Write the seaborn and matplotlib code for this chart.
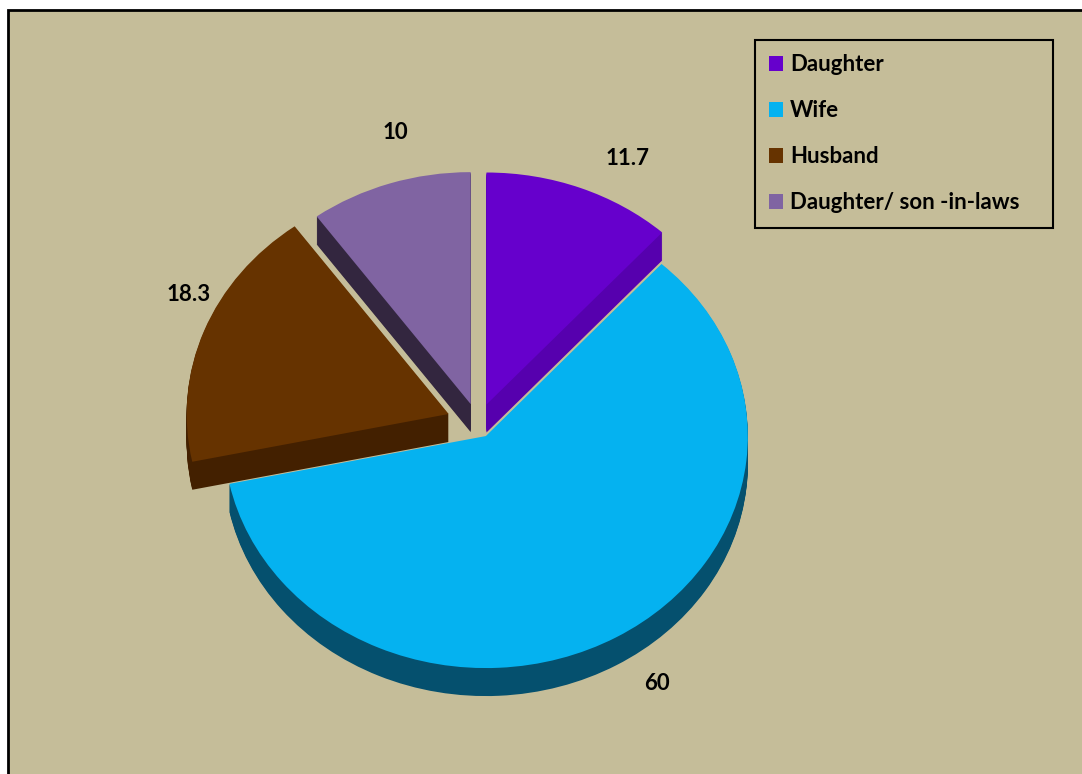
import numpy as np
import matplotlib
matplotlib.use("Agg")
import matplotlib.pyplot as plt
from matplotlib.patches import Rectangle
import seaborn as sns

# Data
categories = ["Daughter", "Wife", "Husband", "Daughter/ son -in-laws"]
shares = [11.7, 60, 18.3, 10]
value_labels = ["11.7", "60", "18.3", "10"]

# Styling
top_colors = ["#6600CC", "#05B2F0", "#663300", "#8064A2"]
side_colors = ["#5600AE", "#05506E", "#432000", "#33263F"]
explode = [0.09, 0.06, 0.12, 0.09]
draw_rank = [1, 3, 2, 0]                                   # back-to-front stacking order
label_nudge_px = [(30, -9), (17, -10), (28, 21), (20, 11)]  # fine placement of value labels

sns.set_theme(style="white")
plt.rcParams["font.family"] = ["Lato", "DejaVu Sans"]

W, H = 1082, 774
BG = "#C5BD99"
fig = plt.figure(figsize=(W / 100, H / 100), dpi=100)
fig.patch.set_facecolor("white")

# chart area panel
frame = Rectangle((8 / W, -0.05), 1.2, (H - 10) / H + 0.05, transform=fig.transFigure,
                  facecolor=BG, edgecolor="black", linewidth=2, zorder=0)
fig.add_artist(frame)

ax = fig.add_axes([0, 0, 1, 1])
ax.set_facecolor("none")

cx, cy = 478, 424      # pie centre in pixels from top-left
sx, sy = 262, 232      # pixels per unit radius (tilted view)
depth_px = 28
n_layers = 28

for k in range(n_layers + 1):
    off = -(n_layers - k) / n_layers * depth_px / sy
    is_top = k == n_layers
    wedges, _ = ax.pie(shares, explode=explode, startangle=90, counterclock=False,
                       colors=top_colors if is_top else side_colors, center=(0, off),
                       wedgeprops=dict(linewidth=0, antialiased=True))
    for w, r in zip(wedges, draw_rank):
        w.set_zorder(2 + r * 100 + k)

ax.set_aspect("auto")
ax.set_xlim(-cx / sx, (W - cx) / sx)
ax.set_ylim((cy - H) / sy, cy / sy)
ax.axis("off")

# value labels at the middle of each slice, just outside the rim
total = sum(shares)
cum = np.cumsum(shares)
for v, c, e, txt, (nx, ny) in zip(shares, cum, explode, value_labels, label_nudge_px):
    th = np.deg2rad(360 * (c - v / 2) / total)
    r = 1.18 + e
    x = r * np.sin(th) + nx / sx
    y = r * np.cos(th) + ny / sy
    ax.text(x, y, txt, ha="center", va="center", fontsize=16, fontweight="bold",
            color="black", zorder=1000)

handles = [Rectangle((0, 0), 1, 1, facecolor=c, edgecolor="none") for c in top_colors]
leg = fig.legend(handles, categories, loc="upper left",
                 bbox_to_anchor=(755 / W, 1 - 40 / H, (1053 - 755) / W, 0), mode="expand",
                 frameon=True, fancybox=False, edgecolor="black", facecolor=BG, framealpha=1,
                 prop=dict(weight="bold", size=16), labelcolor="black",
                 handlelength=0.63, handleheight=0.63,
                 handletextpad=0.3, labelspacing=1.12, borderpad=0.65, borderaxespad=0)
leg.get_frame().set_linewidth(1.5)

fig.savefig("out.png", dpi=100, facecolor=fig.get_facecolor())
